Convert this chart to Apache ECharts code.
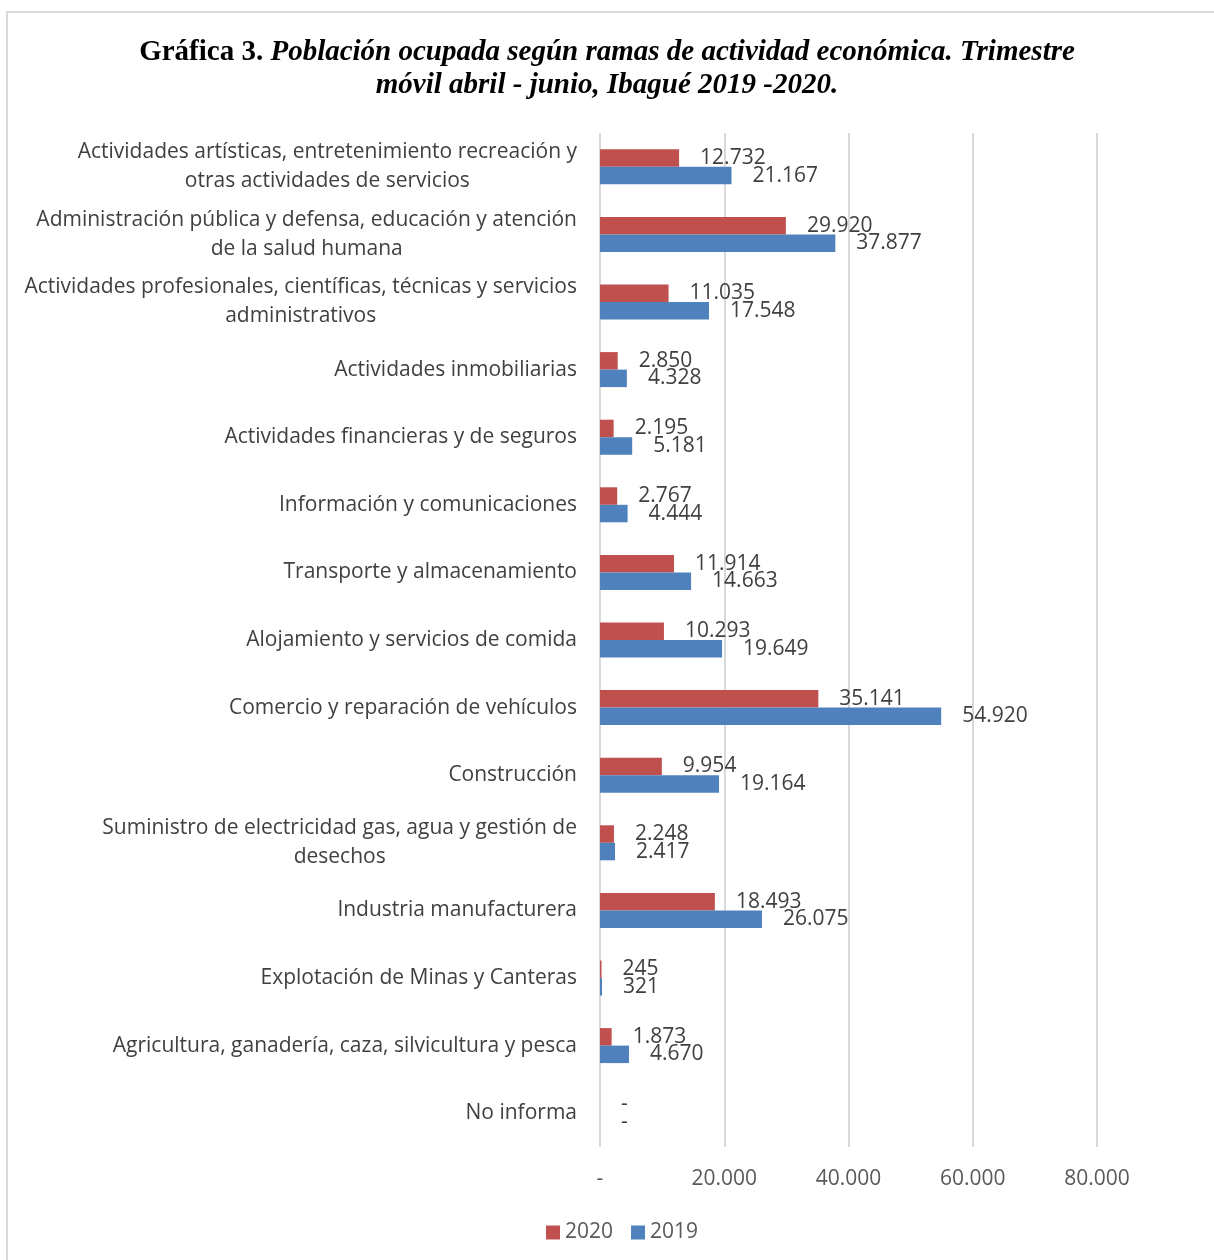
<!DOCTYPE html>
<html>
<head>
<meta charset="utf-8">
<script src="https://cdn.jsdelivr.net/npm/echarts@6/dist/echarts.min.js"></script>
<style>
  html, body { margin: 0; padding: 0; background: #fff; }
  #chart { width: 1214px; height: 1260px; }
</style>
</head>
<body>
<div id="chart"></div>
<script>
// ramas de actividad, de arriba hacia abajo
var categories = [
  'Actividades artísticas, entretenimiento recreación y\notras actividades de servicios',
  'Administración pública y defensa, educación y atención\nde la salud humana',
  'Actividades profesionales, científicas, técnicas y servicios\nadministrativos',
  'Actividades inmobiliarias',
  'Actividades financieras y de seguros',
  'Información y comunicaciones',
  'Transporte y almacenamiento',
  'Alojamiento y servicios de comida',
  'Comercio y reparación de vehículos',
  'Construcción',
  'Suministro de electricidad gas, agua y gestión de\ndesechos',
  'Industria manufacturera',
  'Explotación de Minas y Canteras',
  'Agricultura, ganadería, caza, silvicultura y pesca',
  'No informa'
]
var values2020 = [12732, 29920, 11035, 2850, 2195, 2767, 11914, 10293, 35141, 9954, 2248, 18493, 245, 1873, 0]
var values2019 = [21167, 37877, 17548, 4328, 5181, 4444, 14663, 19649, 54920, 19164, 2417, 26075, 321, 4670, 0]
var seriesNames = ['2020', '2019']
var xTicks = [0, 20000, 40000, 60000, 80000]

function miles (v) {
  if (!v) return '-'
  return String(v).replace(/\B(?=(\d{3})+(?!\d))/g, '.')
}

var chart = echarts.init(document.getElementById('chart'))

var labelOpt = {
  show: true,
  position: 'right',
  distance: 21,
  fontFamily: 'Open Sans',
  fontSize: 21,
  color: '#404040',
  formatter: function (p) { return miles(p.value) }
}

chart.setOption({
  animation: false,
  backgroundColor: '#fff',
  graphic: [{
    type: 'polyline',
    shape: { points: [[7, 1262], [7, 12], [1216, 12]] },
    style: { stroke: '#d9d9d9', lineWidth: 2, fill: null }
  }],
  title: {
    left: 'center',
    top: 31,
    text: '{b|Gráfica 3. }{bi|Población ocupada según ramas de actividad económica. Trimestre}\n{bi|móvil abril - junio, Ibagué 2019 -2020.}',
    textStyle: {
      rich: {
        b: { fontFamily: 'Liberation Serif', fontWeight: 'bold', fontSize: 29, color: '#000', lineHeight: 33 },
        bi: { fontFamily: 'Liberation Serif', fontWeight: 'bold', fontStyle: 'italic', fontSize: 29, color: '#000', lineHeight: 33 }
      }
    }
  },
  legend: {
    bottom: 12,
    left: 541,
    itemWidth: 14,
    itemHeight: 14,
    itemGap: 18,
    icon: 'rect',
    textStyle: { fontFamily: 'Open Sans', fontSize: 21, color: '#595959' },
    data: seriesNames
  },
  grid: { left: 600, right: 117, top: 133, bottom: 113 },
  xAxis: {
    type: 'value',
    min: 0,
    max: 80000,
    interval: 20000,
    axisLine: { show: false },
    axisTick: { show: false },
    splitLine: { lineStyle: { color: '#d9d9d9', width: 2 } },
    axisLabel: {
      margin: 22,
      fontFamily: 'Open Sans',
      fontSize: 21,
      color: '#595959',
      customValues: xTicks,
      formatter: function (v) { return miles(v) }
    }
  },
  yAxis: {
    type: 'category',
    inverse: true,
    data: categories,
    axisLine: { show: false },
    axisTick: { show: false },
    axisLabel: {
      margin: 23,
      formatter: function (v) {
        return v.split('\n').map(function (s) { return '{c|' + s + '}' }).join('\n')
      },
      rich: {
        c: { align: 'center', fontFamily: 'Open Sans', fontSize: 21, color: '#404040', lineHeight: 29 }
      }
    }
  },
  series: [{
    name: seriesNames[0],
    type: 'bar',
    data: values2020,
    barWidth: 17.5,
    barGap: '0%',
    itemStyle: { color: '#C0504D' },
    label: labelOpt
  }, {
    name: seriesNames[1],
    type: 'bar',
    data: values2019,
    barWidth: 17.5,
    barGap: '0%',
    itemStyle: { color: '#4F81BD' },
    label: labelOpt
  }]
})
</script>
</body>
</html>
